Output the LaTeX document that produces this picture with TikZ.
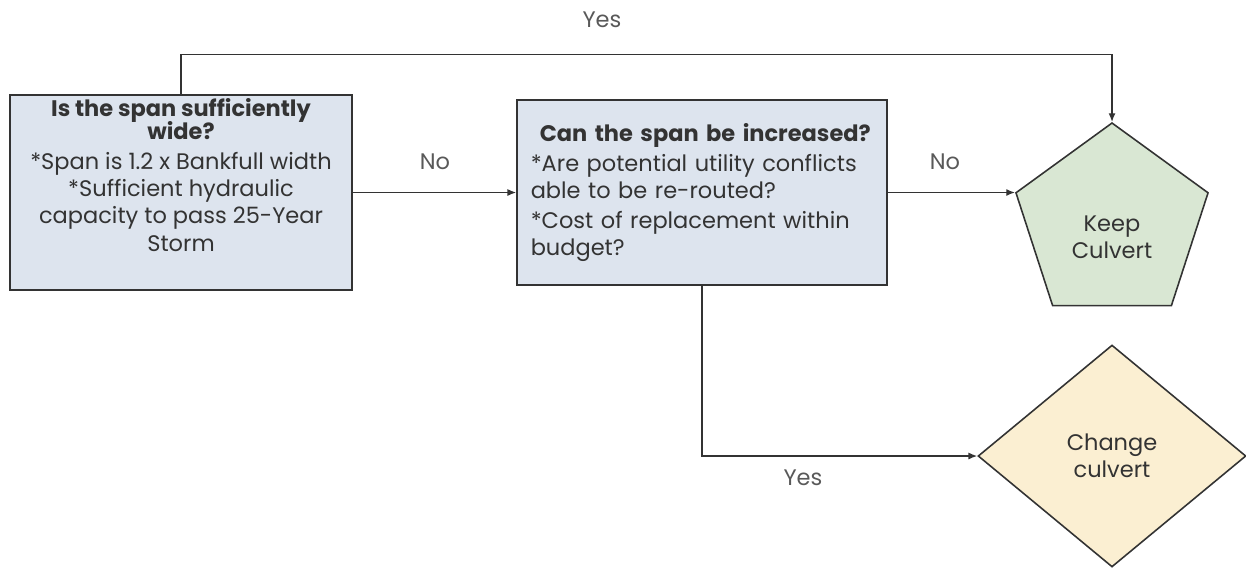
\documentclass[tikz,border=0pt]{standalone}
\usepackage{fontspec}
\setmainfont{Poppins}
\usetikzlibrary{shapes.geometric,arrows.meta}
\definecolor{boxblue}{HTML}{DDE4EE}
\definecolor{keepgreen}{HTML}{D9E7D3}
\definecolor{changeyellow}{HTML}{FBEFD2}
\definecolor{linegrey}{HTML}{333333}

\begin{document}
\begin{tikzpicture}[x=0.02cm,y=-0.02cm,
        every node/.style={font=\fontsize{12.8}{15.5}\selectfont, text=black!80},
        question/.style={draw=linegrey, line width=0.9pt, fill=boxblue, inner sep=0pt},
        outcome/.style={draw=linegrey, line width=0.9pt, inner sep=0pt, align=center},
        flow/.style={draw=linegrey, line width=0.8pt, -{Latex[length=5pt,width=4pt]}},
        answer/.style={text=black!65}]
        \useasboundingbox (0,0) rectangle (1246,569);
        \node[question, minimum width=6.84cm, minimum height=3.9cm, align=center, text depth=0.7cm] (span) at (181,192.5)
            {\textbf{Is the span sufficiently}\\[-2.5pt]\textbf{wide?}\\[1.5pt]{}*Span is 1.2 x Bankfull width\\{}*Sufficient hydraulic\\capacity to pass 25-Year\\Storm};
        \node[question, minimum width=7.4cm, minimum height=3.7cm, text width=6.85cm, align=left] (increase) at (702,192.5)
            {\hspace*{0.18cm}\mbox{\textbf{Can the span be increased?}}\\[1.5pt]{}*Are potential utility conflicts\\able to be re-routed?\\[1.5pt]{}*Cost of replacement within\\budget?};
        \node[outcome, regular polygon, regular polygon sides=5, minimum size=4.04cm, fill=keepgreen, text height=1.4cm] (keep) at (1112,224) {Keep\\Culvert};
        \node[outcome, diamond, minimum width=5.36cm, minimum height=4.44cm, fill=changeyellow] (change) at (1112,456) {Change\\culvert};
        \draw[flow] (span.north) -- ++(0,-40) -| (keep.north);
        \draw[flow] (span.east) -- (increase.west);
        \draw[flow] (increase.east) -- (increase.east -| keep.corner 2);
        \draw[flow] (increase.south) |- (change.west);
        \node[answer] (yes1) at (602,20) {Yes};
        \node[answer] (no1) at (435,162) {No};
        \node[answer] (no2) at (945,162) {No};
        \node[answer] (yes2) at (803,478) {Yes};
    \end{tikzpicture}
\end{document}
